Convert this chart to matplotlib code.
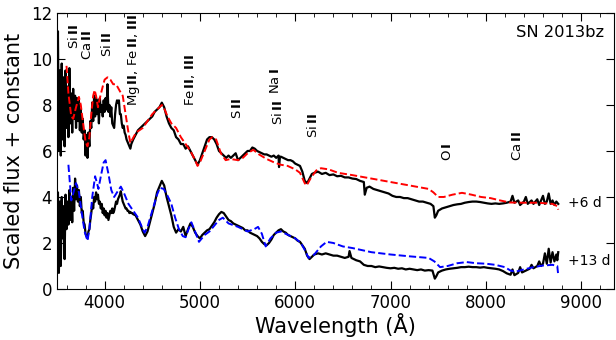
import matplotlib
matplotlib.use("Agg")
import matplotlib.pyplot as plt
from matplotlib.ticker import MultipleLocator

# ---------------- observed spectrum, +6 d ----------------
obs6_wave = [
    3500, 3510, 3520, 3530, 3540, 3550, 3560, 3570, 3580, 3590, 3600, 3610, 3620, 3630,
    3640, 3650, 3660, 3670, 3680, 3690, 3700, 3710, 3720, 3730, 3740, 3750, 3760, 3770,
    3780, 3790, 3800, 3810, 3820, 3830, 3840, 3850, 3860, 3870, 3880, 3890, 3900, 3910,
    3920, 3930, 3940, 3950, 3960, 3970, 3980, 3990, 4000, 4010, 4020, 4030, 4040, 4050,
    4060, 4070, 4080, 4090, 4100, 4110, 4120, 4130, 4140, 4150, 4160, 4170, 4180, 4190,
    4200, 4210, 4220, 4230, 4240, 4250, 4260, 4270, 4280, 4290, 4300,
    4325, 4350, 4375, 4400, 4425, 4450, 4475, 4500, 4525, 4550, 4575, 4600, 4625, 4650,
    4675, 4700, 4725, 4750, 4775, 4800, 4825, 4850, 4875, 4900, 4925, 4950, 4975, 5000,
    5025, 5050, 5075, 5100, 5125, 5150, 5175, 5200, 5225, 5250, 5275, 5300, 5325, 5350,
    5375, 5400, 5425, 5450, 5475, 5500, 5525, 5550, 5575, 5600, 5625, 5650, 5675, 5700,
    5725, 5750, 5775, 5800, 5825, 5830, 5840, 5850, 5875, 5900, 5925, 5950, 5975, 6000,
    6025, 6050, 6075, 6100, 6125, 6150, 6175, 6200,
    6240, 6280, 6320, 6360, 6400, 6440, 6480, 6520, 6560, 6600, 6640, 6680, 6720, 6730,
    6750, 6780, 6820, 6860, 6900, 6940, 6980, 7020, 7060, 7100, 7140, 7180, 7220, 7260,
    7300, 7340, 7380, 7420, 7450, 7465, 7480, 7500, 7540, 7580, 7620, 7660, 7700, 7740,
    7780, 7820, 7860, 7900, 7940, 7980, 8020, 8060, 8100, 8140, 8180, 8220, 8260, 8280,
    8300, 8340, 8360, 8400, 8420, 8440, 8480, 8500, 8540, 8560, 8600, 8620, 8640, 8660,
    8680, 8700, 8720, 8740, 8760,
]
obs6_flux = [
    7.5, 11.2, 6.0, 9.5, 5.8, 9.8, 6.5, 9.2, 6.2, 9.5, 7.0, 8.8, 6.6, 9.6,
    7.2, 8.5, 6.8, 8.7, 7.4, 8.4, 7.0, 8.3, 7.3, 8.2, 6.9, 7.8, 6.8, 7.4,
    6.5, 6.9, 5.8, 6.7, 5.7, 6.8, 6.2, 7.3, 7.0, 8.1, 7.3, 8.4, 7.5, 8.3,
    7.6, 8.2, 7.2, 8.3, 7.7, 8.0, 7.5, 8.2, 7.7, 8.3, 7.8, 8.9, 7.7, 8.0,
    7.5, 7.9, 7.2, 7.1, 7.0, 7.6, 8.0, 8.2, 8.1, 8.2, 7.6, 7.6, 7.2, 7.0,
    7.1, 6.8, 6.7, 6.5, 6.4, 6.3, 6.2, 6.1, 6.3, 6.4, 6.5,
    6.7, 6.9, 7.0, 7.1, 7.2, 7.3, 7.4, 7.5, 7.7, 7.8, 7.9, 8.1, 7.9, 7.5,
    7.2, 7.0, 6.9, 6.6, 6.5, 6.3, 6.3, 6.1, 6.2, 6.0, 5.8, 5.6, 5.4, 5.6,
    5.9, 6.2, 6.5, 6.6, 6.6, 6.5, 6.3, 6.0, 5.9, 5.8, 5.7, 5.8, 5.7, 5.8,
    5.9, 5.6, 5.7, 5.8, 5.9, 6.0, 6.0, 6.15, 6.1, 6.0, 5.95, 5.9, 5.85, 5.85,
    5.8, 5.75, 5.8, 5.7, 5.8, 5.3, 5.75, 5.75, 5.7, 5.65, 5.6, 5.6, 5.55, 5.45,
    5.4, 5.35, 5.1, 4.7, 4.6, 4.8, 5.0, 5.05,
    5.1, 5.0, 5.05, 4.95, 4.98, 4.9, 4.92, 4.85, 4.85, 4.8, 4.78, 4.7, 4.65, 4.1,
    4.4, 4.45, 4.35, 4.3, 4.25, 4.2, 4.15, 4.05, 4.0, 4.0, 3.95, 3.95, 3.9, 3.85,
    3.8, 3.8, 3.75, 3.7, 3.6, 3.1, 3.2, 3.4, 3.5, 3.55, 3.6, 3.65, 3.68, 3.7,
    3.75, 3.78, 3.8, 3.8, 3.78, 3.75, 3.72, 3.7, 3.72, 3.7, 3.72, 3.75, 3.8, 4.05,
    3.75, 3.85, 3.65, 3.8, 4.0, 3.7, 3.85, 3.7, 3.9, 3.65, 4.05, 3.7, 3.8, 4.15,
    3.7, 3.85, 3.65, 3.8, 3.7,
]

# ---------------- model spectrum, +6 d ----------------
mod6_wave = [
    3600, 3620, 3650, 3670, 3700, 3730, 3750, 3780, 3800, 3820, 3840, 3860, 3880, 3895,
    3910, 3930, 3950, 3980, 4000, 4030, 4060, 4090, 4120, 4160, 4190, 4220, 4250, 4270,
    4290, 4330, 4400, 4450, 4500, 4550, 4600, 4630, 4660, 4700, 4750, 4800, 4850, 4900,
    4950, 4975, 5000, 5050, 5100, 5130, 5170, 5220, 5270, 5320, 5400, 5450, 5500, 5560,
    5620, 5700, 5780, 5850, 5920, 6000, 6050, 6100, 6120, 6160, 6220, 6270, 6350, 6450,
    6600, 6800, 7000, 7200, 7400, 7450, 7500, 7560, 7650, 7750, 7850, 7950, 8050, 8150,
    8250, 8400, 8550, 8700, 8750, 8760,
]
mod6_flux = [
    9.7, 8.5, 7.5, 7.4, 7.9, 8.35, 8.0, 7.0, 6.4, 6.2, 6.6, 7.6, 8.4, 8.65,
    8.4, 7.9, 8.3, 8.8, 9.1, 9.2, 9.1, 8.9, 8.9, 8.6, 8.4, 7.6, 6.8, 6.35,
    6.5, 6.8, 7.0, 7.3, 7.6, 7.8, 8.0, 7.8, 7.5, 7.2, 7.0, 6.6, 6.3, 6.0,
    5.6, 5.35, 5.5, 6.0, 6.5, 6.6, 6.5, 5.9, 5.6, 5.65, 5.6, 5.7, 5.9, 6.05,
    5.85, 5.65, 5.5, 5.4, 5.35, 5.2, 5.05, 4.6, 4.5, 4.8, 5.15, 5.25, 5.2, 5.05,
    4.95, 4.8, 4.65, 4.5, 4.35, 4.2, 4.0, 4.0, 4.1, 4.18, 4.1, 4.0, 3.95, 3.85,
    3.76, 3.75, 3.75, 3.7, 3.6, 3.45,
]

# ---------------- observed spectrum, +13 d ----------------
obs13_wave = [
    3500, 3510, 3520, 3530, 3540, 3550, 3560, 3570, 3580, 3590, 3600, 3610, 3620, 3630,
    3640, 3650, 3660, 3670, 3680, 3690, 3700, 3710, 3720, 3730, 3740, 3750, 3760, 3770,
    3780, 3790, 3800, 3810, 3820, 3830, 3840, 3850, 3860, 3870, 3880, 3890, 3900, 3910,
    3920, 3930, 3940, 3950, 3960, 3970, 3980, 3990, 4000, 4010, 4020, 4030, 4040, 4050,
    4060, 4070, 4080, 4090, 4100, 4110, 4120, 4130, 4140, 4150, 4160, 4170, 4180, 4190,
    4200, 4210, 4220, 4230, 4240, 4250, 4260, 4270, 4280, 4290, 4300,
    4325, 4350, 4375, 4400, 4425, 4450, 4475, 4500, 4525, 4550, 4575, 4600, 4625, 4650,
    4675, 4700, 4725, 4750, 4775, 4800, 4825, 4850, 4875, 4900, 4925, 4950, 4975, 5000,
    5025, 5050, 5075, 5100, 5125, 5150, 5175, 5200, 5225, 5250, 5275, 5300, 5325, 5350,
    5375, 5400, 5425, 5450, 5475, 5500, 5525, 5550, 5575, 5600, 5625, 5650, 5675, 5700,
    5725, 5750, 5775, 5800, 5825, 5850, 5875, 5900, 5925, 5950, 5975, 6000, 6025, 6050,
    6075, 6100, 6125, 6150, 6175, 6200,
    6240, 6280, 6320, 6360, 6400, 6440, 6480, 6520, 6560, 6570, 6590, 6640, 6680, 6720,
    6760, 6800, 6840, 6880, 6920, 6960, 7000, 7040, 7080, 7120, 7160, 7200, 7240, 7280,
    7320, 7360, 7400, 7440, 7465, 7480, 7500, 7540, 7580, 7620, 7660, 7700, 7740, 7780,
    7820, 7860, 7900, 7940, 7980, 8020, 8060, 8100, 8140, 8180, 8220, 8260, 8280, 8300,
    8340, 8360, 8380, 8420, 8460, 8480, 8500, 8540, 8560, 8580, 8600, 8620, 8640, 8660,
    8680, 8700, 8720, 8740, 8750, 8760,
]
obs13_flux = [
    0.9, 4.2, 0.7, 3.8, 1.0, 4.0, 2.2, 3.6, 1.3, 4.1, 2.6, 3.8, 2.8, 4.3,
    3.0, 4.0, 2.9, 4.4, 3.4, 4.8, 3.9, 4.5, 3.8, 4.3, 3.6, 4.0, 3.3, 3.4,
    2.9, 2.8, 2.4, 2.3, 2.2, 2.5, 2.6, 3.0, 3.3, 3.7, 3.5, 4.0, 3.8, 4.2,
    3.9, 4.1, 3.7, 3.8, 3.5, 3.7, 3.3, 3.5, 3.2, 3.4, 3.1, 3.3, 3.0, 3.2,
    3.4, 3.3, 3.5, 3.3, 3.4, 3.6, 3.8, 3.7, 3.9, 4.0, 4.1, 4.25, 4.0, 3.8,
    3.7, 3.6, 3.5, 3.5, 3.4, 3.4, 3.3, 3.35, 3.3, 3.3, 3.25,
    3.2, 3.0, 2.8, 2.5, 2.3, 2.5, 2.9, 3.3, 3.7, 4.2, 4.45, 4.7, 4.5, 4.0,
    3.6, 3.2, 2.7, 2.45, 2.6, 2.5, 2.7, 2.3, 2.6, 2.85, 2.7, 2.45, 2.3, 2.2,
    2.35, 2.45, 2.55, 2.6, 2.75, 2.9, 3.1, 3.25, 3.35, 3.3, 3.15, 3.0, 2.95, 2.85,
    2.8, 2.75, 2.7, 2.65, 2.55, 2.55, 2.45, 2.4, 2.35, 2.3, 2.2, 2.05, 1.95, 1.9,
    2.0, 2.15, 2.35, 2.45, 2.55, 2.6, 2.5, 2.45, 2.35, 2.3, 2.25, 2.2, 2.1, 2.05,
    1.9, 1.75, 1.45, 1.3, 1.4, 1.5,
    1.55, 1.5, 1.55, 1.5, 1.45, 1.45, 1.4, 1.35, 1.4, 1.65, 1.35, 1.25, 1.2, 1.05,
    1.0, 1.0, 0.95, 0.98, 0.95, 0.92, 0.9, 0.92, 0.88, 0.9, 0.85, 0.88, 0.85, 0.82,
    0.85, 0.8, 0.82, 0.8, 0.45, 0.55, 0.72, 0.8, 0.85, 0.88, 0.9, 0.92, 0.95, 0.95,
    0.97, 0.95, 0.95, 0.93, 0.95, 0.92, 0.9, 0.88, 0.85, 0.78, 0.68, 0.62, 0.85, 0.6,
    0.7, 0.95, 0.72, 0.8, 0.88, 1.05, 0.9, 1.0, 1.2, 1.0, 1.1, 1.55, 1.1, 1.75,
    1.15, 1.6, 1.2, 1.5, 1.25, 1.6,
]

# ---------------- model spectrum, +13 d ----------------
mod13_wave = [
    3620, 3650, 3680, 3700, 3730, 3760, 3790, 3820, 3840, 3870, 3900, 3920, 3935, 3960,
    3990, 4010, 4040, 4070, 4100, 4130, 4170, 4200, 4250, 4300, 4350, 4400, 4420, 4450,
    4500, 4550, 4580, 4620, 4660, 4700, 4740, 4780, 4820, 4850, 4880, 4910, 4940, 4990,
    5050, 5100, 5150, 5200, 5240, 5300, 5400, 5500, 5570, 5610, 5650, 5690, 5740, 5800,
    5850, 5900, 6000, 6060, 6100, 6140, 6200, 6270, 6330, 6400, 6500, 6600, 6800, 7000,
    7200, 7400, 7460, 7520, 7600, 7700, 7800, 7900, 8000, 8100, 8200, 8260, 8310, 8400,
    8500, 8600, 8700, 8750, 8760,
]
mod13_flux = [
    5.4, 3.85, 4.3, 4.6, 4.2, 3.3, 2.5, 2.1, 2.6, 4.0, 4.9, 4.6, 4.35, 4.9,
    5.5, 5.6, 5.0, 4.3, 4.0, 4.2, 4.45, 4.2, 3.7, 3.4, 3.1, 2.6, 2.45, 2.7,
    3.4, 4.1, 4.4, 4.35, 4.05, 3.7, 3.1, 2.6, 2.3, 2.25, 2.6, 2.9, 2.6, 2.05,
    2.35, 2.5, 2.75, 3.0, 3.1, 2.85, 2.7, 2.5, 2.6, 2.7, 2.4, 1.85, 2.2, 2.45,
    2.5, 2.4, 2.2, 2.0, 1.7, 1.35, 1.5, 1.85, 2.05, 2.0, 1.85, 1.78, 1.6, 1.5,
    1.42, 1.35, 1.2, 0.95, 1.0, 1.12, 1.17, 1.12, 1.1, 1.05, 0.95, 0.8, 0.75, 0.85,
    0.95, 1.02, 1.05, 1.0, 0.6,
]

# ---------------- line identifications ----------------
ion_labels = [
    r"Si$\,\mathbf{II}$", r"Ca$\,\mathbf{II}$", r"Si$\,\mathbf{II}$",
    r"Mg$\,\mathbf{II}$, Fe$\,\mathbf{II}$, $\mathbf{III}$",
    r"Fe$\,\mathbf{II}$, $\mathbf{III}$", r"S$\,\mathbf{II}$", r"Na$\,\mathbf{I}$",
    r"Si$\,\mathbf{II}$", r"Si$\,\mathbf{II}$", r"O$\,\mathbf{I}$", r"Ca$\,\mathbf{II}$",
]
ion_wave = [3675, 3822, 4021, 4305, 4900, 5395, 5793, 5823, 6190, 7595, 8329]
ion_height = [10.45, 9.95, 10.1, 7.95, 7.95, 7.38, 8.48, 7.12, 6.56, 5.56, 5.56]

epoch_labels = ["+6 d", "+13 d"]
epoch_height = [3.74, 1.22]

plt.rcParams["font.family"] = ["DejaVu Sans"]
plt.rcParams["mathtext.fontset"] = "dejavusans"

fig = plt.figure(figsize=(6.16, 3.40), dpi=100)
ax = fig.add_axes([0.0925, 0.15, 0.905, 0.812])

ax.plot(obs6_wave, obs6_flux, color="black", lw=1.6, zorder=2)
ax.plot(obs13_wave, obs13_flux, color="black", lw=1.6, zorder=2)
ax.plot(mod6_wave, mod6_flux, color="red", lw=1.4, ls="--", zorder=3)
ax.plot(mod13_wave, mod13_flux, color="blue", lw=1.4, ls="--", zorder=3)

for lab, w, h in zip(ion_labels, ion_wave, ion_height):
    ax.text(w, h, lab, rotation=90, ha="center", va="bottom", fontsize=9.5)

for lab, h in zip(epoch_labels, epoch_height):
    ax.text(8860, h, lab, ha="left", va="center", fontsize=10)

ax.text(0.982, 0.955, "SN 2013bz", transform=ax.transAxes, ha="right", va="top",
        fontsize=11.7)

ax.set_xlim(3500, 9350)
ax.set_ylim(0, 12)
ax.xaxis.set_major_locator(MultipleLocator(1000))
ax.xaxis.set_minor_locator(MultipleLocator(200))
ax.yaxis.set_major_locator(MultipleLocator(2))
ax.tick_params(which="both", direction="in", top=True, right=True, labelsize=12)
ax.tick_params(which="major", length=6)
ax.tick_params(which="minor", length=3)
ax.set_xlabel("Wavelength (Å)", fontsize=15, labelpad=1)
ax.set_ylabel("Scaled flux + constant", fontsize=15, labelpad=5)

fig.savefig("out.png", dpi=100)
